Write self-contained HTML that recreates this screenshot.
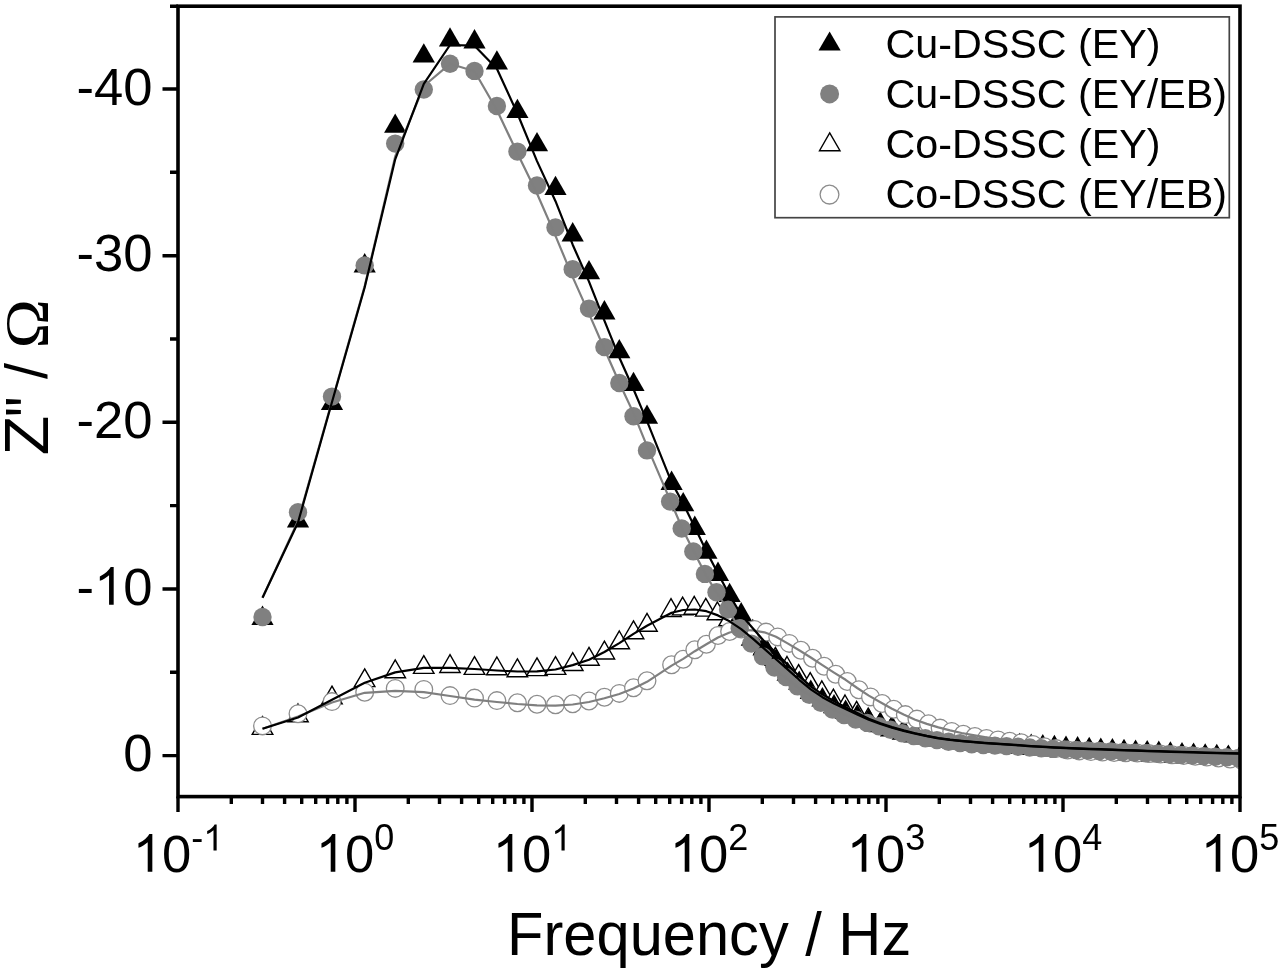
<!DOCTYPE html>
<html lang="en"><head><meta charset="utf-8"><title>Bode plot: Z'' vs Frequency</title>
<style>
html,body{margin:0;padding:0;background:#fff;}
body{width:1280px;height:969px;overflow:hidden;font-family:"Liberation Sans",sans-serif;}
svg{display:block;filter:blur(0.55px);}
text{font-family:"Liberation Sans",sans-serif;fill:#000;}
.ft{fill:#000;}
.ot{fill:#fff;stroke:#000;stroke-width:1.4;stroke-linejoin:miter;}
.fc{fill:#808080;}
.oc{fill:#fff;stroke:#8c8c8c;stroke-width:1.3;}
.lk{fill:none;stroke:#000;stroke-width:2.2;stroke-linejoin:round;}
.lg{fill:none;stroke:#7f7f7f;stroke-width:2.2;stroke-linejoin:round;}
.ax{fill:none;stroke:#000;stroke-width:3.6;}
.tk{fill:none;stroke:#000;stroke-width:3.4;}
.tl{font-size:52.6px;}
.sp{font-size:36px;}
.at{font-size:59.6px;}
.om{font-family:"Liberation Serif",serif;}
.lb{fill:#fff;stroke:#444;stroke-width:1.7;}
.g1{fill:#000;}
.lt{font-size:41.25px;}
</style></head>
<body>
<svg width="1280" height="969" viewBox="0 0 1280 969">
<rect width="1280" height="969" fill="#fff"/>
<defs><clipPath id="cp"><rect x="178.0" y="6.2" width="1062.0" height="790.4"/></clipPath></defs>
<g clip-path="url(#cp)">
<g id="sC"><path class="ot" d="M262.5 716.6L272.8 734.4H252.2Z"/><path class="ot" d="M298.0 704.0L308.2 721.8H287.8Z"/><path class="ot" d="M332.0 686.1L342.2 703.9H321.8Z"/><path class="ot" d="M364.7 668.8L374.9 686.6H354.4Z"/><path class="ot" d="M395.2 659.9L405.5 677.7H385.0Z"/><path class="ot" d="M423.8 655.6L434.0 673.4H413.5Z"/><path class="ot" d="M450.0 654.7L460.2 672.5H439.8Z"/><path class="ot" d="M474.5 656.6L484.8 674.4H464.2Z"/><path class="ot" d="M496.9 657.0L507.1 674.8H486.6Z"/><path class="ot" d="M517.4 658.9L527.6 676.7H507.1Z"/><path class="ot" d="M537.0 657.8L547.2 675.6H526.8Z"/><path class="ot" d="M555.5 656.6L565.8 674.4H545.2Z"/><path class="ot" d="M572.7 652.7L583.0 670.5H562.5Z"/><path class="ot" d="M589.0 647.4L599.2 665.2H578.8Z"/><path class="ot" d="M604.4 641.2L614.6 659.0H594.1Z"/><path class="ot" d="M619.3 631.0L629.5 648.8H609.0Z"/><path class="ot" d="M633.5 620.9L643.8 638.7H623.2Z"/><path class="ot" d="M647.0 613.4L657.2 631.2H636.8Z"/><path class="ot" d="M671.0 598.7L681.2 616.5H660.8Z"/><path class="ot" d="M682.6 597.1L692.9 614.9H672.4Z"/><path class="ot" d="M694.2 596.4L704.5 614.2H684.0Z"/><path class="ot" d="M705.8 598.3L716.0 616.1H695.5Z"/><path class="ot" d="M717.4 602.0L727.6 619.8H707.1Z"/><path class="ot" d="M729.0 608.0L739.2 625.8H718.8Z"/><path class="ot" d="M740.6 616.8L750.9 634.6H730.4Z"/><path class="ot" d="M752.2 627.3L762.4 645.1H741.9Z"/><path class="ot" d="M763.8 637.0L774.1 654.8H753.6Z"/><path class="ot" d="M775.4 647.4L785.6 665.2H765.1Z"/><path class="ot" d="M787.0 656.5L797.2 674.3H776.8Z"/><path class="ot" d="M798.6 664.6L808.9 682.4H788.4Z"/><path class="ot" d="M810.2 672.6L820.4 690.4H799.9Z"/><path class="ot" d="M821.8 680.9L832.1 698.7H811.6Z"/><path class="ot" d="M833.4 689.2L843.6 707.0H823.1Z"/><path class="ot" d="M845.0 695.0L855.2 712.8H834.8Z"/><path class="ot" d="M856.6 701.3L866.9 719.1H846.4Z"/><path class="ot" d="M868.2 708.2L878.4 726.0H857.9Z"/><path class="ot" d="M879.8 713.8L890.1 731.6H869.6Z"/><path class="ot" d="M891.4 717.9L901.6 735.7H881.1Z"/><path class="ot" d="M903.0 721.3L913.2 739.1H892.8Z"/><path class="ot" d="M914.6 723.9L924.9 741.7H904.4Z"/><path class="ot" d="M926.2 726.1L936.4 743.9H915.9Z"/><path class="ot" d="M937.8 727.9L948.1 745.7H927.6Z"/><path class="ot" d="M949.4 729.6L959.6 747.4H939.1Z"/><path class="ot" d="M961.0 731.0L971.2 748.8H950.8Z"/><path class="ot" d="M972.6 732.2L982.9 750.0H962.4Z"/><path class="ot" d="M984.2 733.2L994.4 751.0H973.9Z"/><path class="ot" d="M995.8 734.1L1006.0 751.9H985.5Z"/><path class="ot" d="M1007.4 734.8L1017.6 752.6H997.1Z"/><path class="ot" d="M1019.0 735.6L1029.2 753.4H1008.8Z"/><path class="ot" d="M1030.6 736.4L1040.9 754.2H1020.4Z"/><path class="ot" d="M1042.2 737.1L1052.5 754.9H1032.0Z"/><path class="ot" d="M1053.8 737.9L1064.1 755.7H1043.6Z"/><path class="ot" d="M1065.4 738.6L1075.7 756.4H1055.2Z"/><path class="ot" d="M1077.0 739.3L1087.2 757.1H1066.8Z"/><path class="ot" d="M1088.6 740.0L1098.9 757.8H1078.4Z"/><path class="ot" d="M1100.2 740.6L1110.5 758.4H1090.0Z"/><path class="ot" d="M1111.8 741.3L1122.1 759.1H1101.6Z"/><path class="ot" d="M1123.4 741.9L1133.7 759.7H1113.2Z"/><path class="ot" d="M1135.0 742.6L1145.2 760.4H1124.8Z"/><path class="ot" d="M1146.6 743.2L1156.9 761.0H1136.4Z"/><path class="ot" d="M1158.2 743.8L1168.5 761.6H1148.0Z"/><path class="ot" d="M1169.8 744.4L1180.1 762.2H1159.6Z"/><path class="ot" d="M1181.4 744.9L1191.7 762.7H1171.2Z"/><path class="ot" d="M1193.0 745.5L1203.2 763.3H1182.8Z"/><path class="ot" d="M1204.6 746.1L1214.9 763.9H1194.4Z"/><path class="ot" d="M1216.2 746.6L1226.5 764.4H1206.0Z"/><path class="ot" d="M1227.8 747.1L1238.1 764.9H1217.6Z"/><path class="ot" d="M1239.4 747.6L1249.7 765.4H1229.2Z"/></g>
<g id="sA"><path class="ft" d="M262.5 605.6L273.6 624.9H251.4Z"/><path class="ft" d="M298.0 508.1L309.1 527.4H286.9Z"/><path class="ft" d="M332.0 390.6L343.1 409.9H320.9Z"/><path class="ft" d="M364.7 253.1L375.8 272.4H353.6Z"/><path class="ft" d="M395.2 113.4L406.4 132.7H384.1Z"/><path class="ft" d="M423.8 43.2L434.9 62.5H412.6Z"/><path class="ft" d="M450.0 27.2L461.1 46.5H438.9Z"/><path class="ft" d="M474.5 29.1L485.6 48.4H463.4Z"/><path class="ft" d="M496.9 50.2L508.0 69.5H485.8Z"/><path class="ft" d="M517.4 98.8L528.5 118.1H506.3Z"/><path class="ft" d="M537.0 131.9L548.1 151.2H525.9Z"/><path class="ft" d="M555.5 175.7L566.6 195.0H544.4Z"/><path class="ft" d="M572.7 222.1L583.8 241.4H561.6Z"/><path class="ft" d="M589.0 260.0L600.1 279.2H577.9Z"/><path class="ft" d="M604.4 300.1L615.5 319.4H593.3Z"/><path class="ft" d="M619.3 338.9L630.4 358.2H608.2Z"/><path class="ft" d="M633.5 371.7L644.6 391.0H622.4Z"/><path class="ft" d="M647.0 404.4L658.1 423.7H635.9Z"/><path class="ft" d="M671.6 470.6L682.7 489.9H660.5Z"/><path class="ft" d="M683.2 491.9L694.3 511.2H672.1Z"/><path class="ft" d="M694.8 515.6L705.9 534.9H683.7Z"/><path class="ft" d="M706.4 539.5L717.5 558.8H695.3Z"/><path class="ft" d="M718.0 561.6L729.1 580.9H706.9Z"/><path class="ft" d="M729.6 582.8L740.7 602.1H718.5Z"/><path class="ft" d="M741.2 602.1L752.3 621.4H730.1Z"/><path class="ft" d="M752.8 618.8L763.9 638.1H741.7Z"/><path class="ft" d="M764.4 634.6L775.5 653.9H753.3Z"/><path class="ft" d="M776.0 648.4L787.1 667.6H764.9Z"/><path class="ft" d="M787.6 661.5L798.7 680.8H776.5Z"/><path class="ft" d="M799.2 670.5L810.3 689.8H788.1Z"/><path class="ft" d="M810.8 679.6L821.9 698.9H799.7Z"/><path class="ft" d="M822.4 687.1L833.5 706.4H811.3Z"/><path class="ft" d="M834.0 693.9L845.1 713.2H822.9Z"/><path class="ft" d="M845.6 699.4L856.7 718.7H834.5Z"/><path class="ft" d="M857.2 704.0L868.3 723.3H846.1Z"/><path class="ft" d="M868.8 708.1L879.9 727.4H857.7Z"/><path class="ft" d="M880.4 711.6L891.5 730.9H869.3Z"/><path class="ft" d="M892.0 715.2L903.1 734.5H880.9Z"/><path class="ft" d="M903.6 718.5L914.7 737.8H892.5Z"/><path class="ft" d="M915.2 721.2L926.3 740.5H904.1Z"/><path class="ft" d="M926.8 723.3L937.9 742.6H915.7Z"/><path class="ft" d="M938.4 725.2L949.5 744.5H927.3Z"/><path class="ft" d="M950.0 726.8L961.1 746.1H938.9Z"/><path class="ft" d="M961.6 728.3L972.7 747.6H950.5Z"/><path class="ft" d="M973.2 729.5L984.3 748.8H962.1Z"/><path class="ft" d="M984.8 730.5L995.9 749.8H973.7Z"/><path class="ft" d="M996.4 731.4L1007.5 750.7H985.3Z"/><path class="ft" d="M1008.0 732.1L1019.1 751.4H996.9Z"/><path class="ft" d="M1019.6 732.8L1030.7 752.1H1008.5Z"/><path class="ft" d="M1031.2 733.4L1042.3 752.7H1020.1Z"/><path class="ft" d="M1042.8 734.0L1053.9 753.3H1031.7Z"/><path class="ft" d="M1054.4 734.7L1065.5 754.0H1043.3Z"/><path class="ft" d="M1066.0 735.4L1077.1 754.7H1054.9Z"/><path class="ft" d="M1077.6 736.1L1088.7 755.4H1066.5Z"/><path class="ft" d="M1089.2 736.7L1100.3 756.0H1078.1Z"/><path class="ft" d="M1100.8 737.4L1111.9 756.7H1089.7Z"/><path class="ft" d="M1112.4 738.0L1123.5 757.3H1101.3Z"/><path class="ft" d="M1124.0 738.7L1135.1 758.0H1112.9Z"/><path class="ft" d="M1135.6 739.4L1146.7 758.7H1124.5Z"/><path class="ft" d="M1147.2 740.0L1158.3 759.3H1136.1Z"/><path class="ft" d="M1158.8 740.6L1169.9 759.9H1147.7Z"/><path class="ft" d="M1170.4 741.3L1181.5 760.6H1159.3Z"/><path class="ft" d="M1182.0 741.9L1193.1 761.2H1170.9Z"/><path class="ft" d="M1193.6 742.5L1204.7 761.8H1182.5Z"/><path class="ft" d="M1205.2 743.2L1216.3 762.5H1194.1Z"/><path class="ft" d="M1216.8 743.8L1227.9 763.1H1205.7Z"/><path class="ft" d="M1228.4 744.4L1239.5 763.7H1217.3Z"/><path class="ft" d="M1240.0 745.0L1251.1 764.2H1228.9Z"/></g>
<g id="sD"><circle class="oc" cx="262.5" cy="725.9" r="8.85"/><circle class="oc" cx="298.0" cy="713.7" r="8.85"/><circle class="oc" cx="332.0" cy="701.6" r="8.85"/><circle class="oc" cx="364.7" cy="692.2" r="8.85"/><circle class="oc" cx="395.2" cy="688.4" r="8.85"/><circle class="oc" cx="423.8" cy="689.4" r="8.85"/><circle class="oc" cx="450.0" cy="695.6" r="8.85"/><circle class="oc" cx="474.5" cy="698.1" r="8.85"/><circle class="oc" cx="496.9" cy="700.6" r="8.85"/><circle class="oc" cx="517.4" cy="702.8" r="8.85"/><circle class="oc" cx="537.0" cy="704.3" r="8.85"/><circle class="oc" cx="555.5" cy="704.7" r="8.85"/><circle class="oc" cx="572.7" cy="703.7" r="8.85"/><circle class="oc" cx="589.0" cy="701.0" r="8.85"/><circle class="oc" cx="604.4" cy="697.2" r="8.85"/><circle class="oc" cx="619.3" cy="693.4" r="8.85"/><circle class="oc" cx="633.5" cy="687.8" r="8.85"/><circle class="oc" cx="647.0" cy="680.8" r="8.85"/><circle class="oc" cx="671.6" cy="664.7" r="8.85"/><circle class="oc" cx="683.2" cy="659.3" r="8.85"/><circle class="oc" cx="694.8" cy="649.8" r="8.85"/><circle class="oc" cx="706.4" cy="644.2" r="8.85"/><circle class="oc" cx="718.0" cy="635.5" r="8.85"/><circle class="oc" cx="729.6" cy="631.5" r="8.85"/><circle class="oc" cx="741.2" cy="629.0" r="8.85"/><circle class="oc" cx="754.5" cy="629.4" r="8.85"/><circle class="oc" cx="766.1" cy="632.1" r="8.85"/><circle class="oc" cx="777.7" cy="636.9" r="8.85"/><circle class="oc" cx="789.3" cy="643.4" r="8.85"/><circle class="oc" cx="800.9" cy="650.3" r="8.85"/><circle class="oc" cx="812.5" cy="658.2" r="8.85"/><circle class="oc" cx="824.1" cy="666.3" r="8.85"/><circle class="oc" cx="835.7" cy="674.2" r="8.85"/><circle class="oc" cx="847.3" cy="681.5" r="8.85"/><circle class="oc" cx="858.9" cy="689.7" r="8.85"/><circle class="oc" cx="870.5" cy="696.9" r="8.85"/><circle class="oc" cx="882.1" cy="703.5" r="8.85"/><circle class="oc" cx="893.7" cy="709.3" r="8.85"/><circle class="oc" cx="905.3" cy="714.6" r="8.85"/><circle class="oc" cx="916.9" cy="719.1" r="8.85"/><circle class="oc" cx="928.5" cy="723.7" r="8.85"/><circle class="oc" cx="940.1" cy="728.1" r="8.85"/><circle class="oc" cx="951.7" cy="731.4" r="8.85"/><circle class="oc" cx="963.3" cy="734.2" r="8.85"/><circle class="oc" cx="974.9" cy="736.5" r="8.85"/><circle class="oc" cx="986.5" cy="738.4" r="8.85"/><circle class="oc" cx="998.1" cy="739.9" r="8.85"/><circle class="oc" cx="1009.7" cy="741.3" r="8.85"/><circle class="oc" cx="1021.3" cy="742.8" r="8.85"/><circle class="oc" cx="1032.9" cy="744.4" r="8.85"/><circle class="oc" cx="1044.5" cy="746.7" r="8.85"/><circle class="oc" cx="1056.1" cy="748.6" r="8.85"/><circle class="oc" cx="1067.7" cy="750.0" r="8.85"/><circle class="oc" cx="1079.3" cy="750.9" r="8.85"/><circle class="oc" cx="1090.9" cy="751.6" r="8.85"/><circle class="oc" cx="1102.5" cy="752.1" r="8.85"/><circle class="oc" cx="1114.1" cy="752.5" r="8.85"/><circle class="oc" cx="1125.7" cy="752.8" r="8.85"/><circle class="oc" cx="1137.3" cy="753.1" r="8.85"/><circle class="oc" cx="1148.9" cy="753.6" r="8.85"/><circle class="oc" cx="1160.5" cy="754.1" r="8.85"/><circle class="oc" cx="1172.1" cy="754.7" r="8.85"/><circle class="oc" cx="1183.7" cy="755.5" r="8.85"/><circle class="oc" cx="1195.3" cy="756.3" r="8.85"/><circle class="oc" cx="1206.9" cy="757.1" r="8.85"/><circle class="oc" cx="1218.5" cy="758.0" r="8.85"/><circle class="oc" cx="1230.1" cy="759.1" r="8.85"/><circle class="oc" cx="1241.7" cy="760.0" r="8.85"/></g>
<g id="sB"><circle class="fc" cx="262.5" cy="617.0" r="9.2"/><circle class="fc" cx="298.0" cy="512.2" r="9.2"/><circle class="fc" cx="332.0" cy="396.6" r="9.2"/><circle class="fc" cx="364.7" cy="265.4" r="9.2"/><circle class="fc" cx="395.2" cy="143.6" r="9.2"/><circle class="fc" cx="423.8" cy="89.5" r="9.2"/><circle class="fc" cx="450.0" cy="63.8" r="9.2"/><circle class="fc" cx="474.5" cy="70.9" r="9.2"/><circle class="fc" cx="496.9" cy="106.0" r="9.2"/><circle class="fc" cx="517.4" cy="151.6" r="9.2"/><circle class="fc" cx="537.0" cy="185.5" r="9.2"/><circle class="fc" cx="555.5" cy="227.4" r="9.2"/><circle class="fc" cx="572.7" cy="269.2" r="9.2"/><circle class="fc" cx="589.0" cy="308.6" r="9.2"/><circle class="fc" cx="604.4" cy="347.1" r="9.2"/><circle class="fc" cx="619.3" cy="383.0" r="9.2"/><circle class="fc" cx="633.5" cy="416.2" r="9.2"/><circle class="fc" cx="647.0" cy="450.4" r="9.2"/><circle class="fc" cx="670.1" cy="501.6" r="9.2"/><circle class="fc" cx="681.7" cy="528.5" r="9.2"/><circle class="fc" cx="693.3" cy="551.4" r="9.2"/><circle class="fc" cx="704.9" cy="573.9" r="9.2"/><circle class="fc" cx="716.5" cy="592.2" r="9.2"/><circle class="fc" cx="728.1" cy="609.6" r="9.2"/><circle class="fc" cx="739.7" cy="628.3" r="9.2"/><circle class="fc" cx="751.3" cy="643.6" r="9.2"/><circle class="fc" cx="762.9" cy="656.4" r="9.2"/><circle class="fc" cx="774.5" cy="667.6" r="9.2"/><circle class="fc" cx="786.1" cy="677.0" r="9.2"/><circle class="fc" cx="797.7" cy="686.4" r="9.2"/><circle class="fc" cx="809.3" cy="694.7" r="9.2"/><circle class="fc" cx="820.9" cy="702.7" r="9.2"/><circle class="fc" cx="832.5" cy="709.6" r="9.2"/><circle class="fc" cx="844.1" cy="715.1" r="9.2"/><circle class="fc" cx="855.7" cy="719.6" r="9.2"/><circle class="fc" cx="867.3" cy="722.9" r="9.2"/><circle class="fc" cx="878.9" cy="726.2" r="9.2"/><circle class="fc" cx="890.5" cy="729.8" r="9.2"/><circle class="fc" cx="902.1" cy="733.3" r="9.2"/><circle class="fc" cx="913.7" cy="736.0" r="9.2"/><circle class="fc" cx="925.3" cy="738.2" r="9.2"/><circle class="fc" cx="936.9" cy="740.1" r="9.2"/><circle class="fc" cx="948.5" cy="741.7" r="9.2"/><circle class="fc" cx="960.1" cy="743.1" r="9.2"/><circle class="fc" cx="971.7" cy="744.3" r="9.2"/><circle class="fc" cx="983.3" cy="745.1" r="9.2"/><circle class="fc" cx="994.9" cy="745.6" r="9.2"/><circle class="fc" cx="1006.5" cy="746.1" r="9.2"/><circle class="fc" cx="1018.1" cy="746.7" r="9.2"/><circle class="fc" cx="1029.7" cy="747.5" r="9.2"/><circle class="fc" cx="1041.3" cy="748.2" r="9.2"/><circle class="fc" cx="1052.9" cy="748.9" r="9.2"/><circle class="fc" cx="1064.5" cy="749.5" r="9.2"/><circle class="fc" cx="1076.1" cy="750.0" r="9.2"/><circle class="fc" cx="1087.7" cy="750.5" r="9.2"/><circle class="fc" cx="1099.3" cy="751.0" r="9.2"/><circle class="fc" cx="1110.9" cy="751.5" r="9.2"/><circle class="fc" cx="1122.5" cy="752.1" r="9.2"/><circle class="fc" cx="1134.1" cy="752.6" r="9.2"/><circle class="fc" cx="1145.7" cy="753.2" r="9.2"/><circle class="fc" cx="1157.3" cy="753.7" r="9.2"/><circle class="fc" cx="1168.9" cy="754.3" r="9.2"/><circle class="fc" cx="1180.5" cy="754.9" r="9.2"/><circle class="fc" cx="1192.1" cy="755.5" r="9.2"/><circle class="fc" cx="1203.7" cy="756.1" r="9.2"/><circle class="fc" cx="1215.3" cy="756.7" r="9.2"/><circle class="fc" cx="1226.9" cy="757.3" r="9.2"/><circle class="fc" cx="1238.5" cy="757.9" r="9.2"/></g>
<polyline class="lg" points="262.5,728.8 298.0,716.5 332.0,702.5 364.7,692.8 395.2,690.9 423.8,692.2 450.0,696.0 474.5,699.7 496.9,702.0 517.4,704.0 537.0,705.3 555.5,705.6 572.7,704.5 589.0,702.0 604.4,698.3 619.3,694.0 633.5,688.5 647.0,681.8 671.6,665.6 683.2,658.9 694.8,651.2 706.4,644.3 718.0,637.5 729.6,632.5 741.2,630.0 752.8,630.4 764.4,632.3 776.0,636.8 787.6,643.4 799.2,650.3 810.8,657.5 822.4,665.1 834.0,672.6 845.6,679.8 857.2,688.0 868.8,695.6 880.4,702.2 892.0,708.7 903.6,714.6 915.2,719.7 926.8,723.9 938.4,727.4 950.0,730.4 961.6,733.0 973.2,735.2 984.8,737.2 996.4,738.9 1008.0,740.4 1019.6,742.1 1031.2,743.5 1042.8,744.7 1054.4,745.6 1066.0,746.5 1077.6,747.4 1089.2,748.2 1100.8,749.1 1112.4,749.9 1124.0,750.8 1135.6,751.6 1147.2,752.4 1158.8,753.2 1170.4,754.0 1182.0,754.8 1193.6,755.6 1205.2,756.3 1216.8,757.1 1228.4,757.8 1240.0,758.5"/>
<polyline class="lg" points="262.5,597.7 298.0,521.0 332.0,401.0 364.7,286.1 395.2,156.4 423.8,86.0 450.0,63.8 474.5,71.2 496.9,110.0 517.4,153.2 537.0,193.5 555.5,235.9 572.7,277.1 589.0,313.6 604.4,349.0 619.3,382.7 633.5,413.1 647.0,446.2 671.6,503.6 683.2,530.5 694.8,553.4 706.4,576.1 718.0,594.7 729.6,612.3 741.2,631.3 752.8,646.4 764.4,659.0 776.0,670.0 787.6,679.2 799.2,688.4 810.8,696.1 822.4,703.6 834.0,709.9 845.6,714.9 857.2,718.7 868.8,721.5 880.4,724.1 892.0,727.2 903.6,730.3 915.2,732.9 926.8,735.1 938.4,736.9 950.0,738.4 961.6,739.8 973.2,740.9 984.8,741.6 996.4,742.1 1008.0,742.5 1019.6,743.0 1031.2,743.7 1042.8,744.4 1054.4,745.0 1066.0,745.5 1077.6,745.9 1089.2,746.3 1100.8,746.8 1112.4,747.3 1124.0,747.7 1135.6,748.2 1147.2,748.7 1158.8,749.2 1170.4,749.7 1182.0,750.2 1193.6,750.8 1205.2,751.3 1216.8,751.8 1228.4,752.4 1240.0,752.9"/>
<polyline class="lk" points="262.5,728.8 298.0,717.5 332.0,699.7 364.7,682.8 395.2,672.4 423.8,667.8 450.0,667.8 474.5,669.0 496.9,670.5 517.4,671.5 537.0,671.3 555.5,669.5 572.7,665.1 589.0,659.7 604.4,652.0 619.3,643.1 633.5,633.9 647.0,625.8 671.6,612.8 683.2,610.0 694.8,609.5 706.4,611.2 718.0,615.4 729.6,621.3 741.2,629.1 752.8,638.7 764.4,648.9 776.0,659.2 787.6,669.4 799.2,679.8 810.8,689.4 822.4,697.2 834.0,703.5 845.6,709.1 857.2,714.5 868.8,719.7 880.4,724.0 892.0,727.7 903.6,730.9 915.2,733.7 926.8,736.2 938.4,738.3 950.0,739.9 961.6,741.1 973.2,742.1 984.8,743.1 996.4,743.9 1008.0,744.7 1019.6,745.5 1031.2,746.3 1042.8,747.0 1054.4,747.7 1066.0,748.2 1077.6,748.7 1089.2,749.1 1100.8,749.5 1112.4,749.9 1124.0,750.3 1135.6,750.7 1147.2,751.1 1158.8,751.4 1170.4,751.8 1182.0,752.1 1193.6,752.5 1205.2,752.8 1216.8,753.1 1228.4,753.3 1240.0,753.6"/>
<polyline class="lk" points="262.5,597.7 298.0,522.5 332.0,402.0 364.7,287.2 395.2,159.3 423.8,83.8 450.0,45.0 474.5,45.7 496.9,68.8 517.4,113.5 537.0,161.1 555.5,201.2 572.7,244.7 589.0,281.6 604.4,320.7 619.3,357.5 633.5,389.3 647.0,421.1 671.6,482.3 683.2,503.6 694.8,527.3 706.4,551.3 718.0,573.6 729.6,595.2 741.2,614.7 752.8,628.3 764.4,641.4 776.0,653.0 787.6,664.6 799.2,676.2 810.8,686.3 822.4,694.3 834.0,701.1 845.6,707.3 857.2,713.1 868.8,718.7 880.4,723.2 892.0,727.1 903.6,730.4 915.2,733.3 926.8,735.9 938.4,738.0 950.0,739.6 961.6,740.8 973.2,741.8 984.8,742.8 996.4,743.6 1008.0,744.4 1019.6,745.2 1031.2,746.0 1042.8,746.7 1054.4,747.4 1066.0,747.9 1077.6,748.4 1089.2,748.8 1100.8,749.2 1112.4,749.6 1124.0,750.0 1135.6,750.4 1147.2,750.8 1158.8,751.2 1170.4,751.5 1182.0,751.9 1193.6,752.2 1205.2,752.5 1216.8,752.8 1228.4,753.1 1240.0,753.4"/>
</g>
<rect class="ax" x="178.0" y="6.2" width="1062.0" height="790.4"/>
<path class="tk" d="M170.0 6.2H178.0M162.5 89.0H178.0M170.0 172.3H178.0M162.5 255.7H178.0M170.0 339.0H178.0M162.5 422.3H178.0M170.0 505.6H178.0M162.5 589.0H178.0M170.0 672.3H178.0M162.5 755.6H178.0M178.0 796.6V812.1M231.3 796.6V804.1M262.5 796.6V804.1M284.6 796.6V804.1M301.7 796.6V804.1M315.7 796.6V804.1M327.6 796.6V804.1M337.8 796.6V804.1M346.9 796.6V804.1M355.0 796.6V812.1M408.3 796.6V804.1M439.5 796.6V804.1M461.6 796.6V804.1M478.7 796.6V804.1M492.7 796.6V804.1M504.6 796.6V804.1M514.8 796.6V804.1M523.9 796.6V804.1M532.0 796.6V812.1M585.3 796.6V804.1M616.5 796.6V804.1M638.6 796.6V804.1M655.7 796.6V804.1M669.7 796.6V804.1M681.6 796.6V804.1M691.8 796.6V804.1M700.9 796.6V804.1M709.0 796.6V812.1M762.3 796.6V804.1M793.5 796.6V804.1M815.6 796.6V804.1M832.7 796.6V804.1M846.7 796.6V804.1M858.6 796.6V804.1M868.8 796.6V804.1M877.9 796.6V804.1M886.0 796.6V812.1M939.3 796.6V804.1M970.5 796.6V804.1M992.6 796.6V804.1M1009.7 796.6V804.1M1023.7 796.6V804.1M1035.6 796.6V804.1M1045.8 796.6V804.1M1054.9 796.6V804.1M1063.0 796.6V812.1M1116.3 796.6V804.1M1147.5 796.6V804.1M1169.6 796.6V804.1M1186.7 796.6V804.1M1200.7 796.6V804.1M1212.6 796.6V804.1M1222.8 796.6V804.1M1231.9 796.6V804.1M1240.0 796.6V812.1"/>
<text class="tl" x="76.58" y="104.80">-40</text>
<text class="tl" x="76.58" y="271.45">-30</text>
<text class="tl" x="76.58" y="438.10">-20</text>
<text class="tl" x="76.58" y="604.75">-</text><path class="g1" transform="translate(94.09,604.75) scale(0.02568,-0.02568)" d="M763 0H583V1147Q518 1085 412.5 1023T223 930V1104Q374 1175 487 1276T647 1472H763Z"/><text class="tl" x="123.35" y="604.75">0</text>
<text class="tl" x="123.35" y="771.40">0</text>
<path class="g1" transform="translate(132.74,871.70) scale(0.02568,-0.02568)" d="M763 0H583V1147Q518 1085 412.5 1023T223 930V1104Q374 1175 487 1276T647 1472H763Z"/><text class="tl" x="162.00" y="871.70">0</text>
<text class="sp" x="191.25" y="850.40">-</text><path class="g1" transform="translate(203.24,850.40) scale(0.01758,-0.01758)" d="M763 0H583V1147Q518 1085 412.5 1023T223 930V1104Q374 1175 487 1276T647 1472H763Z"/>
<path class="g1" transform="translate(315.74,871.70) scale(0.02568,-0.02568)" d="M763 0H583V1147Q518 1085 412.5 1023T223 930V1104Q374 1175 487 1276T647 1472H763Z"/><text class="tl" x="344.99" y="871.70">0</text>
<text class="sp" x="374.24" y="850.40">0</text>
<path class="g1" transform="translate(492.74,871.70) scale(0.02568,-0.02568)" d="M763 0H583V1147Q518 1085 412.5 1023T223 930V1104Q374 1175 487 1276T647 1472H763Z"/><text class="tl" x="521.99" y="871.70">0</text>
<path class="g1" transform="translate(551.24,850.40) scale(0.01758,-0.01758)" d="M763 0H583V1147Q518 1085 412.5 1023T223 930V1104Q374 1175 487 1276T647 1472H763Z"/>
<path class="g1" transform="translate(669.74,871.70) scale(0.02568,-0.02568)" d="M763 0H583V1147Q518 1085 412.5 1023T223 930V1104Q374 1175 487 1276T647 1472H763Z"/><text class="tl" x="698.99" y="871.70">0</text>
<text class="sp" x="728.24" y="850.40">2</text>
<path class="g1" transform="translate(846.74,871.70) scale(0.02568,-0.02568)" d="M763 0H583V1147Q518 1085 412.5 1023T223 930V1104Q374 1175 487 1276T647 1472H763Z"/><text class="tl" x="875.99" y="871.70">0</text>
<text class="sp" x="905.24" y="850.40">3</text>
<path class="g1" transform="translate(1023.74,871.70) scale(0.02568,-0.02568)" d="M763 0H583V1147Q518 1085 412.5 1023T223 930V1104Q374 1175 487 1276T647 1472H763Z"/><text class="tl" x="1052.99" y="871.70">0</text>
<text class="sp" x="1082.24" y="850.40">4</text>
<path class="g1" transform="translate(1200.74,871.70) scale(0.02568,-0.02568)" d="M763 0H583V1147Q518 1085 412.5 1023T223 930V1104Q374 1175 487 1276T647 1472H763Z"/><text class="tl" x="1229.99" y="871.70">0</text>
<text class="sp" x="1259.24" y="850.40">5</text>
<text class="at" transform="translate(709.15,955.4) scale(1,1.03)" text-anchor="middle">Frequency / Hz</text>
<text class="at" transform="translate(47.6,455.3) rotate(-90) scale(1.085,1.045)">Z</text>
<text class="at" transform="translate(52.5,416.9) rotate(-90) scale(0.96,1.165)">&quot;</text>
<text class="at" transform="translate(47.1,379.1) rotate(-90) scale(0.972,0.982)">/</text>
<text class="at om" transform="translate(47.4,348.6) rotate(-90) scale(1.115,1.021)">&#937;</text>
<rect class="lb" x="775" y="16.9" width="454.3" height="200.8"/>
<path class="ft" d="M829.6 31.4L840.7 50.6H818.5Z"/>
<circle class="fc" cx="829.6" cy="93.9" r="9.5"/>
<path class="ot" d="M829.7 132.9L840.0 150.7H819.5Z"/>
<circle class="oc" cx="829.5" cy="194.6" r="9.4"/>
<text class="lt" x="885.5" y="57.7">Cu-DSSC (EY)</text>
<text class="lt" x="885.5" y="107.7">Cu-DSSC (EY/EB)</text>
<text class="lt" x="885.5" y="157.7">Co-DSSC (EY)</text>
<text class="lt" x="885.5" y="207.7">Co-DSSC (EY/EB)</text>
</svg>
</body></html>
